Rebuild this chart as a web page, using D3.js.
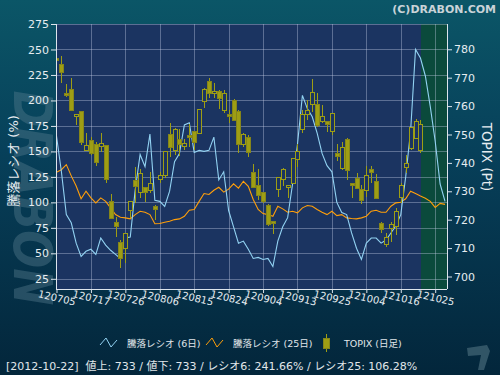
<!DOCTYPE html>
<html><head><meta charset="utf-8">
<script src="https://cdn.jsdelivr.net/npm/d3@7"></script>
<style>html,body{margin:0;padding:0;background:#04263b;} svg{display:block;}</style>
</head><body>
<svg id="c" width="500" height="375"></svg>
<script>
// ---- data ----
const tickLabels = ["120705","120717","120726","120806","120815","120824","120904","120913","120925","121004","121016","121025"];
const tickIndex = [0,7,14,21,28,35,42,49,56,63,70,77];
const leftTicks = [25,50,75,100,125,150,175,200,225,250,275];
const rightTicks = [700,710,720,730,740,750,760,770,780];
const openVals  = [776.8,774.5,764.5,766.0,756.3,758.0,744.5,747.8,746.3,745.7,746.0,726.5,718.9,711.9,709.9,723.1,733.7,729.5,731.2,730.2,724.7,734.2,735.4,750.1,744.3,748.4,745.7,749.8,751.0,750.2,761.5,768.6,764.3,765.1,758.6,757.2,761.8,758.0,746.3,749.0,736.7,731.9,729.5,725.0,719.3,730.5,734.2,731.3,732.8,741.3,751.8,757.2,760.4,760.6,754.5,754.4,751.0,743.4,738.1,748.4,732.8,734.6,730.5,730.2,737.5,733.6,718.7,711.1,717.0,717.5,727.9,738.3,745.1,748.7,744.3];
const highVals  = [781.5,777.6,767.8,770.0,757.2,758.1,750.6,749.0,747.3,750.4,746.3,729.0,721.0,712.9,715.4,726.3,738.7,738.0,731.2,736.9,725.0,736.9,743.9,754.2,752.2,751.8,748.3,753.7,751.3,758.9,766.3,769.8,768.0,765.7,765.7,758.6,762.4,758.6,750.4,749.8,739.6,737.8,729.5,725.6,719.3,735.0,738.1,732.1,741.6,746.7,758.6,762.1,769.4,764.5,760.4,754.4,757.5,746.7,747.5,748.7,732.8,736.3,732.2,738.9,738.9,736.0,719.3,715.2,719.3,724.0,733.0,742.8,752.4,755.4,755.1];
const lowVals   = [775.0,768.2,763.3,758.4,753.3,746.3,744.5,742.8,739.0,743.9,732.8,720.5,714.0,702.9,704.9,720.5,725.8,727.5,726.3,729.3,720.0,733.0,734.6,742.2,742.8,742.4,744.5,745.7,744.5,750.2,759.2,762.7,762.7,759.0,757.5,754.2,755.1,743.4,745.7,742.2,731.4,726.9,725.9,717.8,715.0,727.9,732.0,727.5,732.8,738.7,750.4,755.1,758.0,752.5,753.9,751.0,749.8,740.8,737.5,734.0,727.5,730.7,725.4,728.1,732.8,727.2,715.2,710.5,712.3,714.6,725.8,736.6,744.5,748.3,743.6];
const closeVals = [776.0,771.8,763.7,758.4,757.2,747.1,746.2,743.4,740.1,746.9,734.0,720.5,717.5,706.2,715.0,726.3,731.6,736.3,729.5,732.8,723.6,735.7,743.9,745.4,751.8,746.6,746.9,748.9,747.1,758.9,765.7,764.5,765.3,762.7,764.5,756.5,755.1,746.3,750.1,743.6,731.4,728.5,726.3,718.2,718.5,735.0,737.5,732.1,741.6,743.9,756.9,758.3,764.9,753.3,756.5,753.6,757.5,742.2,745.5,737.3,732.0,731.1,726.9,735.4,736.5,727.5,716.6,713.9,718.2,722.8,732.2,739.9,752.4,754.5,753.6];
const ratio6  = [165,130,88,80,60,47,52,54,49,65,58,53,49,45,65,66,112,147,135,167,102,101,96,111,140,148,176,178,149,151,150,151,164,122,130,92,76,60,62,54,45,46,44,45,37,62,76,85,118,157,205,192,184,168,148,136,130,100,90,88,70,55,44,60,65,65,60,63,70,77,88,125,170,250,241.66,224,194,160,118,101];
const ratio25 = [129.6,132,137,126,116,103.5,111,104.4,99.5,104.4,101,94.6,88,85.4,84.8,83.8,88,91.3,90.3,88,79,79.2,80.5,81.5,83.1,83.8,86.4,92.3,93,101,108.7,107.7,111.9,114.8,110,113,118.2,114,120.7,115.8,102.8,93,89,88,86.4,96.2,93.6,90.3,91.3,89.7,94.6,96.9,96.2,93,90.3,88,91.3,87,88,84.8,84.1,83.8,84.8,86.4,91.3,92.3,90.3,90.3,96.2,99.5,100.1,103.5,111,108.7,106.28,104,101,95,99,98];
const lastIndex = 74;
const footerText = "[2012-10-22]  値上: 733 / 値下: 733 / レシオ6: 241.66% / レシオ25: 106.28%";

// ---- layout ----
const FONT = "'DejaVu Sans','Noto Sans CJK JP',sans-serif";
const L=56, R=447, T=24, B=289;
const svg = d3.select('#c');
const defs = svg.append('defs');
const bg = defs.append('linearGradient').attr('id','bg').attr('x1',0).attr('y1',0).attr('x2',0).attr('y2',1);
bg.append('stop').attr('offset','0%').attr('stop-color','#0b5667');
bg.append('stop').attr('offset','40%').attr('stop-color','#07405a');
bg.append('stop').attr('offset','100%').attr('stop-color','#03263b');
svg.append('rect').attr('width',500).attr('height',375).attr('fill','url(#bg)');

// watermark
svg.append('text').attr('transform','translate(14,198) rotate(90)')
  .attr('text-anchor','middle').attr('font-family',FONT).attr('font-weight','bold').attr('font-style','italic')
  .attr('font-size',54).attr('fill','#5a8090').attr('fill-opacity',0.4)
  .attr('textLength',215).attr('lengthAdjust','spacingAndGlyphs').text('DRABON');

// title
svg.append('text').attr('x',496).attr('y',13).attr('text-anchor','end').attr('font-family',FONT)
  .attr('font-weight','bold').attr('font-size',11).attr('fill','#c9d3d8').text('(C)DRABON.COM');

const x = d3.scaleLinear().domain([-0.1,79.4]).range([L,R]);
const yL = d3.scaleLinear().domain([15,275]).range([B,T]);
const yR = d3.scaleLinear().domain([695.6,788.9]).range([B,T]);

svg.append('rect').attr('x',L).attr('y',T).attr('width',R-L).attr('height',B-T).attr('fill','#1b3461');
const gx0 = Math.round(x(lastIndex))+1;
svg.append('rect').attr('x',gx0).attr('y',T).attr('width',R-gx0).attr('height',B-T).attr('fill','#0b4a3c');

// grid
const grid = svg.append('g').attr('stroke','#c8d0e8').attr('stroke-opacity',0.38).attr('shape-rendering','crispEdges');
leftTicks.forEach(v=>grid.append('line').attr('x1',L).attr('x2',R).attr('y1',Math.round(yL(v))+0.5).attr('y2',Math.round(yL(v))+0.5));
tickIndex.forEach(i=>grid.append('line').attr('y1',T).attr('y2',B).attr('x1',Math.round(x(i))+0.5).attr('x2',Math.round(x(i))+0.5));

// lines
defs.append('clipPath').attr('id','pc').append('rect').attr('x',L).attr('y',T).attr('width',R-L).attr('height',B-T);
const lineL = d3.line().x((d,i)=>x(i)).y(d=>yL(d));
svg.append('path').datum(ratio25).attr('d',lineL).attr('fill','none').attr('stroke','#ff9f0a').attr('stroke-width',1.1).attr('clip-path','url(#pc)');
svg.append('path').datum(ratio6).attr('d',lineL).attr('fill','none').attr('stroke','#92d2f2').attr('stroke-width',1.1).attr('clip-path','url(#pc)');

// candles
const olive='#9e9e14', oliveD='#85851a';
const cg = svg.append('g').attr('clip-path','url(#pc)').attr('shape-rendering','crispEdges');
openVals.forEach((o,i)=>{
  const c=closeVals[i], h=highVals[i], l=lowVals[i];
  const cx=Math.round(x(i))+0.5;
  cg.append('line').attr('x1',cx).attr('x2',cx).attr('y1',yR(h)).attr('y2',yR(l)).attr('stroke',olive);
  const top=yR(Math.max(o,c)), bot=yR(Math.min(o,c));
  const down = c<o;
  cg.append('rect').attr('x',cx-2).attr('y',top).attr('width',4).attr('height',Math.max(1,bot-top))
    .attr('fill',down?olive:'#1b3461').attr('stroke',down?oliveD:olive).attr('stroke-width',1);
});

// axes
function styleAxis(g){
  g.selectAll('path,line').attr('stroke','#dde4ec');
  g.selectAll('text').attr('fill','#e6ecf0').attr('font-family',FONT).attr('font-size',11);
}
svg.append('g').attr('transform',`translate(${L},0)`)
  .call(d3.axisLeft(yL).tickValues(leftTicks).tickSize(5).tickSizeOuter(0).tickPadding(2)).call(styleAxis)
  .call(g=>g.select('.domain').attr('d',`M0.5,${T}V${B}`));
svg.append('g').attr('transform',`translate(${R},0)`)
  .call(d3.axisRight(yR).tickValues(rightTicks).tickSize(5).tickSizeOuter(0).tickPadding(2)).call(styleAxis)
  .call(g=>g.select('.domain').attr('d',`M0.5,${T}V${B}`));
const xa = svg.append('g').attr('transform',`translate(0,${B})`)
  .call(d3.axisBottom(x).tickValues(tickIndex).tickFormat((d,i)=>tickLabels[i]).tickSize(4).tickSizeOuter(0)).call(styleAxis);
xa.select('.domain').attr('d',`M${L},0.5H${R}`);
xa.selectAll('text').attr('font-size',10).attr('dy',null).attr('y',null)
  .attr('transform','translate(0,9) rotate(13)').attr('dominant-baseline','central').attr('text-anchor','middle');

// axis titles
svg.append('text').attr('transform','translate(18,161) rotate(-90)').attr('text-anchor','middle')
  .attr('font-family',FONT).attr('font-size',13).attr('fill','#e6ecf0').text('騰落レシオ (%)');
svg.append('text').attr('transform','translate(482,157) rotate(90)').attr('text-anchor','middle')
  .attr('font-family',FONT).attr('font-size',13.5).attr('fill','#e6ecf0').text('TOPIX (Pt)');

// legend
const lg = svg.append('g').attr('font-family',FONT).attr('font-size',9.5).attr('fill','#e0e6ea');
const zig = [[0,6],[6,-1],[11,8],[17,1]];
[[100,'#92d2f2','騰落レシオ (6日)',127],[206,'#ff9f0a','騰落レシオ (25日)',233]].forEach(([lx,col,txt,tx])=>{
  lg.append('path').attr('d',d3.line()(zig.map(p=>[lx+p[0],339+p[1]]))).attr('fill','none').attr('stroke',col).attr('stroke-width',1);
  lg.append('text').attr('x',tx).attr('y',347).text(txt);
});
lg.append('line').attr('x1',326.5).attr('x2',326.5).attr('y1',334).attr('y2',352).attr('stroke',olive);
lg.append('rect').attr('x',323.5).attr('y',338.5).attr('width',6).attr('height',10).attr('fill',olive).attr('stroke',oliveD);
lg.append('text').attr('x',344).attr('y',347).text('TOPIX (日足)');

// footer
svg.append('text').attr('x',6).attr('y',370).attr('font-family',FONT).attr('font-size',11).attr('fill','#e0e6ea')
  .attr('xml:space','preserve').style('white-space','pre').text(footerText);

// corner logo
svg.append('path').attr('d','M467,348 L487,345 L490,351 L484,370 L478,370 L481,355 L468,356 Z').attr('fill','#3d6070').attr('fill-opacity',0.8);
</script>
</body></html>
